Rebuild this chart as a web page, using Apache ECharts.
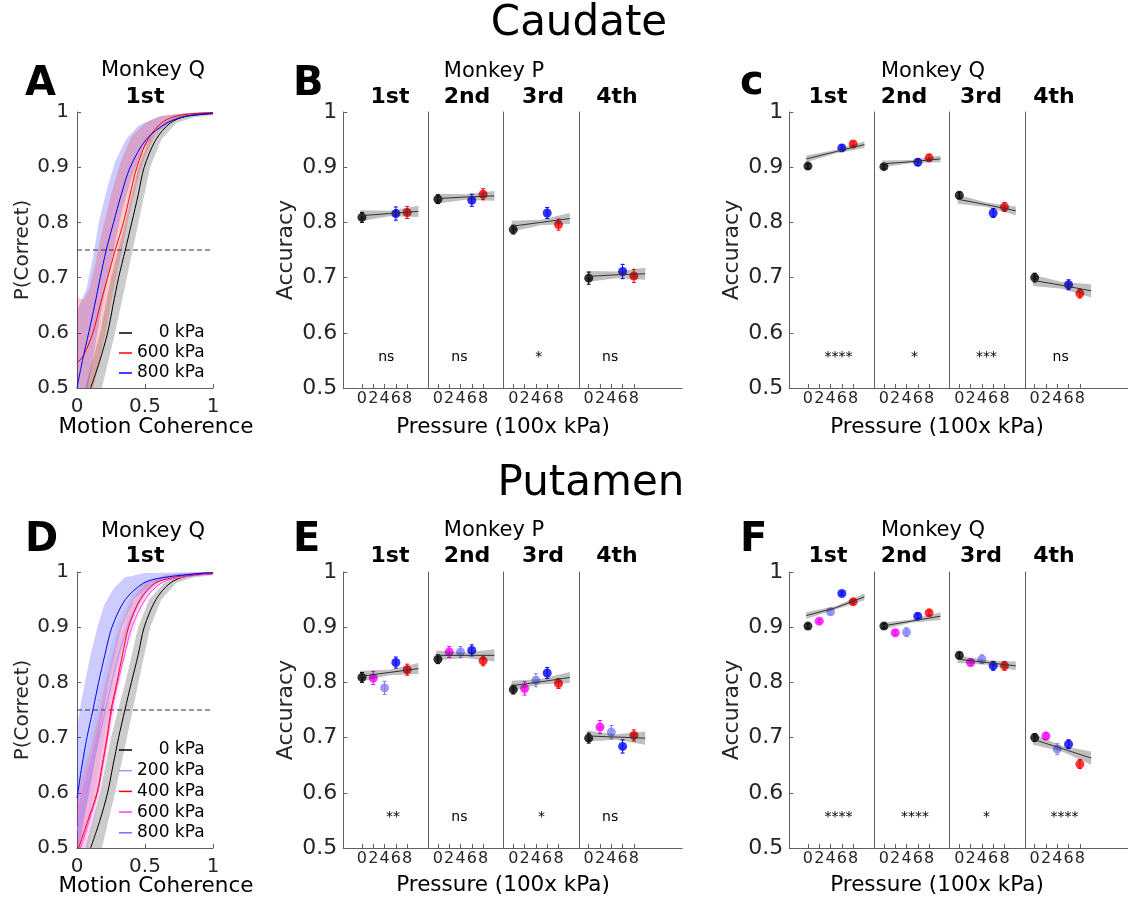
<!DOCTYPE html>
<html>
<head>
<meta charset="utf-8">
<script src="https://cdn.jsdelivr.net/npm/echarts@6/dist/echarts.min.js"></script>
<style>
  html, body { margin: 0; padding: 0; background: #fff; }
  #main { width: 1128px; height: 899px; }
</style>
</head>
<body>
<div id="main"></div>
<script>
// ---------------- data ----------------
var ordinals = ['1st', '2nd', '3rd', '4th'];
var pressTicks = [0, 2, 4, 6, 8];
var pressTop = [0, 6, 8];
var pressBottom = [0, 2, 4, 6, 8];
var fitX = [-0.3, 4.85, 10];
var threshold = 0.75;

// psychometric curves, panel A (caudate, monkey Q, 1st)
var curveA0 = [[0.10, 0.50], [0.166, 0.548], [0.225, 0.60], [0.265, 0.65], [0.306, 0.70], [0.355, 0.75], [0.403, 0.80], [0.45, 0.85], [0.494, 0.90], [0.58, 0.95], [0.685, 0.98], [0.80, 0.992], [1.0, 0.997]];
var curveA600 = [[0, 0.545], [0.05, 0.56], [0.117, 0.60], [0.17, 0.65], [0.225, 0.70], [0.281, 0.75], [0.342, 0.80], [0.39, 0.85], [0.44, 0.90], [0.52, 0.95], [0.62, 0.98], [0.72, 0.992], [0.85, 0.997], [1.0, 0.999]];
var curveA800 = [[0, 0.50], [0.04, 0.55], [0.086, 0.60], [0.13, 0.65], [0.171, 0.70], [0.215, 0.75], [0.269, 0.80], [0.325, 0.85], [0.391, 0.90], [0.508, 0.95], [0.66, 0.98], [0.81, 0.993], [1.0, 0.998]];
var bandA0Hi = [[0.06, 0.5], [0.17, 0.6], [0.25, 0.7], [0.355, 0.8], [0.45, 0.9], [0.53, 0.95], [0.64, 0.98], [0.75, 0.993], [1.0, 0.999]];
var bandA0Lo = [[0.183, 0.5], [0.28, 0.6], [0.367, 0.7], [0.452, 0.8], [0.538, 0.9], [0.62, 0.95], [0.73, 0.98], [0.85, 0.99], [1.0, 0.994]];
var bandA600Hi = [[0, 0.665], [0.05, 0.66], [0.09, 0.68], [0.13, 0.72], [0.18, 0.78], [0.25, 0.85], [0.32, 0.91], [0.40, 0.955], [0.50, 0.98], [0.62, 0.993], [0.8, 0.998], [1.0, 1.0]];
var bandA600Lo = [[0, 0.5], [0.12, 0.5], [0.21, 0.6], [0.27, 0.68], [0.33, 0.75], [0.38, 0.81], [0.44, 0.87], [0.50, 0.92], [0.58, 0.96], [0.70, 0.985], [0.85, 0.995], [1.0, 0.997]];
var bandA800Hi = [[0, 0.64], [0.07, 0.68], [0.12, 0.74], [0.16, 0.80], [0.22, 0.86], [0.28, 0.91], [0.36, 0.95], [0.45, 0.975], [0.6, 0.992], [0.8, 0.998], [1.0, 1.0]];
var bandA800Lo = [[0, 0.5], [0.08, 0.5], [0.15, 0.6], [0.21, 0.68], [0.27, 0.75], [0.33, 0.82], [0.40, 0.88], [0.48, 0.93], [0.58, 0.965], [0.72, 0.988], [1.0, 0.997]];

// psychometric curves, panel D (putamen, monkey Q, 1st)
var curveD0 = [[0.10, 0.50], [0.166, 0.548], [0.225, 0.60], [0.265, 0.65], [0.306, 0.70], [0.352, 0.75], [0.40, 0.80], [0.45, 0.85], [0.494, 0.90], [0.58, 0.95], [0.685, 0.98], [0.80, 0.992], [1.0, 0.997]];
var curveD200 = [[0, 0.53], [0.05, 0.58], [0.1, 0.63], [0.15, 0.685], [0.2, 0.74], [0.25, 0.795], [0.3, 0.845], [0.35, 0.885], [0.4, 0.92], [0.5, 0.965], [0.6, 0.985], [0.75, 0.996], [1.0, 0.999]];
var curveD400 = [[0.012, 0.5], [0.08, 0.55], [0.147, 0.6], [0.185, 0.65], [0.22, 0.7], [0.25, 0.75], [0.293, 0.8], [0.335, 0.85], [0.379, 0.9], [0.465, 0.95], [0.575, 0.98], [0.71, 0.99], [0.85, 0.996], [1.0, 0.998]];
var curveD600 = [[0.024, 0.5], [0.09, 0.55], [0.152, 0.6], [0.19, 0.65], [0.225, 0.7], [0.257, 0.75], [0.30, 0.8], [0.35, 0.85], [0.403, 0.9], [0.50, 0.95], [0.62, 0.98], [0.76, 0.99], [1.0, 0.997]];
var curveD800 = [[0, 0.59], [0.037, 0.65], [0.073, 0.7], [0.117, 0.75], [0.159, 0.8], [0.205, 0.85], [0.257, 0.9], [0.355, 0.95], [0.49, 0.98], [0.636, 0.99], [0.93, 0.998], [1.0, 0.999]];
var bandD0Hi = [[0.06, 0.5], [0.17, 0.6], [0.25, 0.7], [0.355, 0.8], [0.45, 0.9], [0.53, 0.95], [0.64, 0.98], [0.75, 0.993], [1.0, 0.999]];
var bandD0Lo = [[0.183, 0.5], [0.28, 0.6], [0.367, 0.7], [0.452, 0.8], [0.538, 0.9], [0.62, 0.95], [0.73, 0.98], [0.85, 0.99], [1.0, 0.994]];
var bandD200Hi = [[0, 0.62], [0.1, 0.71], [0.2, 0.82], [0.3, 0.91], [0.4, 0.96], [0.5, 0.985], [0.7, 0.997], [1.0, 1.0]];
var bandD200Lo = [[0, 0.5], [0.03, 0.5], [0.13, 0.6], [0.2, 0.7], [0.27, 0.8], [0.35, 0.88], [0.45, 0.94], [0.58, 0.975], [0.8, 0.995], [1.0, 0.998]];
var bandD400Hi = [[0, 0.6], [0.1, 0.68], [0.2, 0.79], [0.3, 0.89], [0.4, 0.95], [0.5, 0.98], [0.65, 0.995], [1.0, 1.0]];
var bandD400Lo = [[0, 0.5], [0.05, 0.5], [0.15, 0.6], [0.22, 0.7], [0.28, 0.78], [0.35, 0.86], [0.42, 0.92], [0.5, 0.96], [0.62, 0.985], [0.8, 0.996], [1.0, 0.998]];
var bandD600Hi = [[0, 0.57], [0.1, 0.66], [0.2, 0.77], [0.3, 0.87], [0.4, 0.94], [0.5, 0.975], [0.65, 0.993], [1.0, 1.0]];
var bandD600Lo = [[0, 0.5], [0.08, 0.5], [0.17, 0.6], [0.24, 0.7], [0.3, 0.78], [0.37, 0.86], [0.45, 0.92], [0.53, 0.96], [0.65, 0.985], [0.82, 0.996], [1.0, 0.998]];
var bandD800Hi = [[0, 0.72], [0.05, 0.79], [0.1, 0.85], [0.15, 0.90], [0.2, 0.94], [0.27, 0.97], [0.35, 0.99], [0.5, 0.998], [1.0, 1.0]];
var bandD800Lo = [[0, 0.5], [0.02, 0.5], [0.05, 0.55], [0.09, 0.6], [0.16, 0.7], [0.23, 0.8], [0.33, 0.9], [0.42, 0.95], [0.55, 0.98], [0.75, 0.995], [1.0, 0.998]];

// Caudate, monkey P (B): accuracy per pressure, error, fit at fitX, CI half-width at fitX, significance
var accB = [[0.809, 0.816, 0.818], [0.842, 0.840, 0.851], [0.787, 0.817, 0.796], [0.699, 0.711, 0.703]];
var errB = [[0.009, 0.012, 0.011], [0.008, 0.011, 0.010], [0.008, 0.010, 0.010], [0.011, 0.013, 0.012]];
var fitB = [[0.812, 0.816, 0.820], [0.843, 0.846, 0.848], [0.793, 0.800, 0.807], [0.702, 0.705, 0.707]];
var ciB = [[0.010, 0.005, 0.010], [0.009, 0.005, 0.009], [0.010, 0.005, 0.010], [0.010, 0.006, 0.011]];
var sigB = ['ns', 'ns', '*', 'ns'];
var sigXB = [4.3, 3.8, 4.5, 3.8];

// Caudate, monkey Q (C)
var accC = [[0.902, 0.935, 0.942], [0.901, 0.909, 0.917], [0.849, 0.817, 0.828], [0.700, 0.687, 0.671]];
var errC = [[0.004, 0.005, 0.004], [0.004, 0.006, 0.006], [0.006, 0.008, 0.008], [0.008, 0.009, 0.008]];
var fitC = [[0.915, 0.928, 0.941], [0.906, 0.910, 0.915], [0.842, 0.832, 0.821], [0.695, 0.686, 0.676]];
var ciC = [[0.006, 0.003, 0.006], [0.006, 0.003, 0.006], [0.008, 0.004, 0.008], [0.010, 0.006, 0.012]];
var sigC = ['****', '*', '***', 'ns'];
var sigXC = [5.4, 5.4, 4.8, 4.6];

// Putamen, monkey P (E)
var accE = [[0.809, 0.808, 0.790, 0.836, 0.823], [0.842, 0.855, 0.855, 0.858, 0.839], [0.787, 0.789, 0.804, 0.817, 0.798], [0.699, 0.719, 0.710, 0.684, 0.704]];
var errE = [[0.009, 0.012, 0.012, 0.010, 0.010], [0.008, 0.010, 0.010, 0.010, 0.009], [0.008, 0.012, 0.012, 0.010, 0.009], [0.009, 0.012, 0.012, 0.012, 0.010]];
var fitE = [[0.811, 0.818, 0.825], [0.849, 0.849, 0.849], [0.794, 0.801, 0.809], [0.703, 0.701, 0.699]];
var ciE = [[0.010, 0.005, 0.010], [0.009, 0.005, 0.011], [0.009, 0.005, 0.010], [0.010, 0.005, 0.012]];
var sigE = ['**', 'ns', '*', 'ns'];
var sigXE = [5.5, 3.8, 5.0, 3.8];

// Putamen, monkey Q (F)
var accF = [[0.902, 0.911, 0.928, 0.961, 0.946], [0.902, 0.890, 0.891, 0.920, 0.926], [0.849, 0.836, 0.842, 0.830, 0.830], [0.700, 0.703, 0.679, 0.688, 0.652]];
var errF = [[0.004, 0.003, 0.005, 0.003, 0.004], [0.004, 0.004, 0.008, 0.004, 0.004], [0.005, 0.006, 0.008, 0.008, 0.008], [0.007, 0.006, 0.010, 0.008, 0.008]];
var fitF = [[0.921, 0.935, 0.955], [0.902, 0.911, 0.920], [0.842, 0.836, 0.830], [0.697, 0.680, 0.663]];
var ciF = [[0.006, 0.003, 0.006], [0.006, 0.003, 0.007], [0.007, 0.004, 0.008], [0.010, 0.005, 0.012]];
var sigF = ['****', '****', '*', '****'];
var sigXF = [5.4, 5.5, 4.8, 5.3];

// ---------------- style / layout ----------------
var FONT = 'DejaVu Sans';
var INK = '#262626';
var AXIS = '#606060';
var pressColor = { 0: '#000000', 2: '#ff00ff', 4: '#8080ff', 6: '#0000ff', 8: '#ff0000' };
var PX = 5.65;                       // pixels per pressure unit
var SUB_OFF = [0, 85, 160.4, 235.8]; // sub-panel offsets from panel left
var SUB_W = [85, 75.4, 75.4, 103];
var SUB_MIN = [-3.3, -1.7, -1.7, -1.7];
var PLOT_H = 276;

var grids = [], xAxes = [], yAxes = [], series = [], graphics = [];

function polygonSeries(gi, hi, lo, color, z) {
  return {
    type: 'custom', xAxisIndex: gi, yAxisIndex: gi, clip: true, silent: true, z: z,
    data: [[0, 0.75]],
    renderItem: function (params, api) {
      var pts = hi.concat(lo.slice().reverse()).map(function (p) { return api.coord(p); });
      return { type: 'polygon', shape: { points: pts }, style: { fill: color } };
    }
  };
}

function psychPanel(top, curves, bands) {
  var gi = grids.length;
  grids.push({ left: 77, top: top, width: 136, height: PLOT_H });
  xAxes.push({
    gridIndex: gi, type: 'value', min: 0, max: 1, interval: 0.5,
    axisLine: { show: true, onZero: false, lineStyle: { color: AXIS } },
    axisTick: { show: true, inside: true, length: 4, lineStyle: { color: AXIS } },
    axisLabel: { fontSize: 20, color: INK, margin: 9, fontFamily: FONT, hideOverlap: false },
    splitLine: { show: false }
  });
  yAxes.push({
    gridIndex: gi, type: 'value', min: 0.5, max: 1, interval: 0.1,
    name: 'P(Correct)', nameLocation: 'middle', nameGap: 42, nameRotate: 90,
    nameTextStyle: { fontSize: 20, color: INK, fontFamily: FONT },
    axisLine: { show: true, onZero: false, lineStyle: { color: AXIS } },
    axisTick: { show: true, inside: true, length: 4, lineStyle: { color: AXIS } },
    axisLabel: { fontSize: 20, color: INK, margin: 8, fontFamily: FONT },
    splitLine: { show: false }
  });
  bands.forEach(function (b) { series.push(polygonSeries(gi, b.hi, b.lo, b.color, 2)); });
  series.push({
    type: 'line', xAxisIndex: gi, yAxisIndex: gi, silent: true, symbol: 'none', z: 3,
    data: [[0, threshold], [1, threshold]],
    lineStyle: { color: '#333', width: 1, type: [5, 3] }
  });
  curves.forEach(function (c) {
    series.push({
      type: 'line', name: c.name, xAxisIndex: gi, yAxisIndex: gi, data: c.data,
      smooth: 0.3, symbol: 'none', clip: true, z: 4,
      lineStyle: { color: c.color, width: 1 }, itemStyle: { color: c.color }
    });
  });
}

function accPanel(left, top, press, acc, err, fit, ci, sig, sigX) {
  for (var k = 0; k < 4; k++) {
    var gi = grids.length;
    var min = SUB_MIN[k];
    grids.push({ left: left + SUB_OFF[k], top: top, width: SUB_W[k], height: PLOT_H });
    xAxes.push({
      gridIndex: gi, type: 'value', min: min, max: min + SUB_W[k] / PX,
      axisLine: { show: true, onZero: false, lineStyle: { color: AXIS } },
      axisTick: { show: true, inside: true, length: 4, customValues: pressTicks, lineStyle: { color: AXIS } },
      axisLabel: { show: true, customValues: pressTicks, fontSize: 16, margin: 3, color: INK, fontFamily: FONT, hideOverlap: false },
      splitLine: { show: false }
    });
    yAxes.push({
      gridIndex: gi, type: 'value', min: 0.5, max: 1, interval: 0.1,
      name: k === 0 ? 'Accuracy' : '', nameLocation: 'middle', nameGap: 46, nameRotate: 90,
      nameTextStyle: { fontSize: 22, color: INK, fontFamily: FONT },
      axisLine: { show: true, onZero: false, lineStyle: { color: AXIS } },
      axisTick: { show: k === 0, inside: true, length: 4, lineStyle: { color: AXIS } },
      axisLabel: { show: k === 0, fontSize: 22, color: INK, margin: 6, fontFamily: FONT },
      splitLine: { show: false }
    });
    var means = acc[k], errs = err[k];
    // points
    series.push({
      type: 'scatter', xAxisIndex: gi, yAxisIndex: gi, symbolSize: 9, z: 2, silent: true,
      data: press.map(function (p, i) { return { value: [p, means[i]], itemStyle: { color: pressColor[p] } }; })
    });
    // error bars
    series.push({
      type: 'custom', xAxisIndex: gi, yAxisIndex: gi, z: 2, silent: true,
      data: press.map(function (p, i) { return { value: [p, means[i] - errs[i], means[i] + errs[i]], itemStyle: { color: pressColor[p] } }; }),
      renderItem: function (params, api) {
        var x = api.value(0);
        var a = api.coord([x, api.value(1)]), b = api.coord([x, api.value(2)]);
        var c = api.visual('color');
        var st = { stroke: c, lineWidth: 1 };
        return {
          type: 'group', children: [
            { type: 'line', shape: { x1: a[0], y1: a[1], x2: b[0], y2: b[1] }, style: st },
            { type: 'line', shape: { x1: a[0] - 2, y1: a[1], x2: a[0] + 2, y2: a[1] }, style: st },
            { type: 'line', shape: { x1: b[0] - 2, y1: b[1], x2: b[0] + 2, y2: b[1] }, style: st }
          ]
        };
      }
    });
    // confidence band of the fit
    var hi = fitX.map(function (x, i) { return [x, fit[k][i] + ci[k][i]]; });
    var lo = fitX.map(function (x, i) { return [x, fit[k][i] - ci[k][i]]; });
    series.push(polygonSeries(gi, hi, lo, 'rgba(0,0,0,0.25)', 3));
    // fit line
    series.push({
      type: 'line', xAxisIndex: gi, yAxisIndex: gi, symbol: 'none', z: 4, silent: true,
      data: fitX.map(function (x, i) { return [x, fit[k][i]]; }),
      lineStyle: { color: '#333', width: 1 }
    });
    // significance
    series.push({
      type: 'custom', xAxisIndex: gi, yAxisIndex: gi, z: 5, silent: true,
      data: [[sigX[k], 0.556]],
      renderItem: (function (t) {
        return function (params, api) {
          var p = api.coord([api.value(0), api.value(1)]);
          return { type: 'text', x: p[0], y: p[1], style: { text: t, fill: '#000', font: '14px "DejaVu Sans"', align: 'center', verticalAlign: 'middle' } };
        };
      })(sig[k])
    });
  }
}

function txt(text, x, y, size, bold, align) {
  graphics.push({
    type: 'text', x: x, y: y, silent: true,
    style: { text: text, fill: '#000', font: (bold ? 'bold ' : '') + size + 'px "DejaVu Sans"', align: align || 'center', verticalAlign: 'middle' }
  });
}

// ---------------- build ----------------
psychPanel(112, [
  { name: '0 kPa', data: curveA0, color: '#000000' },
  { name: '600 kPa', data: curveA600, color: '#ff0000' },
  { name: '800 kPa', data: curveA800, color: '#0000ff' }
], [
  { hi: bandA0Hi, lo: bandA0Lo, color: 'rgba(0,0,0,0.2)' },
  { hi: bandA800Hi, lo: bandA800Lo, color: 'rgba(0,0,255,0.2)' },
  { hi: bandA600Hi, lo: bandA600Lo, color: 'rgba(255,0,0,0.2)' }
]);
psychPanel(572, [
  { name: '0 kPa', data: curveD0, color: '#000000' },
  { name: '200 kPa', data: curveD200, color: '#9a9aff' },
  { name: '600 kPa', data: curveD600, color: '#ff40ff' },
  { name: '400 kPa', data: curveD400, color: '#ff0000' },
  { name: '800 kPa', data: curveD800, color: '#0000ff' }
], [
  { hi: bandD0Hi, lo: bandD0Lo, color: 'rgba(0,0,0,0.2)' },
  { hi: bandD800Hi, lo: bandD800Lo, color: 'rgba(0,0,255,0.2)' },
  { hi: bandD200Hi, lo: bandD200Lo, color: 'rgba(128,128,255,0.15)' },
  { hi: bandD600Hi, lo: bandD600Lo, color: 'rgba(255,0,255,0.13)' },
  { hi: bandD400Hi, lo: bandD400Lo, color: 'rgba(255,0,0,0.13)' }
]);
accPanel(343.3, 112, pressTop, accB, errB, fitB, ciB, sigB, sigXB);
accPanel(789.3, 112, pressTop, accC, errC, fitC, ciC, sigC, sigXC);
accPanel(343.3, 572, pressBottom, accE, errE, fitE, ciE, sigE, sigXE);
accPanel(789.3, 572, pressBottom, accF, errF, fitF, ciF, sigF, sigXF);

// titles and labels
txt('Caudate', 579, 24, 42);
txt('Putamen', 591, 484, 42);
txt('A', 25, 85, 40, true, 'left');
txt('B', 293, 85, 40, true, 'left');
txt('c', 740, 84, 40, true, 'left');
txt('D', 25, 541, 40, true, 'left');
txt('E', 293, 541, 40, true, 'left');
txt('F', 740, 541, 40, true, 'left');
txt('Monkey Q', 153, 71, 21);
txt('1st', 145, 97, 22, true);
txt('Monkey Q', 153, 532, 21);
txt('1st', 145, 556, 22, true);
txt('Monkey P', 494, 72, 21);
txt('Monkey Q', 933, 72, 21);
txt('Monkey P', 494, 531, 21);
txt('Monkey Q', 933, 531, 21);
[390, 467, 543, 617].forEach(function (x, i) { txt(ordinals[i], x, 97, 22, true); txt(ordinals[i], x, 556, 22, true); });
[828, 904, 981, 1054].forEach(function (x, i) { txt(ordinals[i], x, 97, 22, true); txt(ordinals[i], x, 556, 22, true); });
txt('Motion Coherence', 156, 427, 21.5);
txt('Motion Coherence', 156, 886, 21.5);
txt('Pressure (100x kPa)', 503, 427, 21.5);
txt('Pressure (100x kPa)', 937, 427, 21.5);
txt('Pressure (100x kPa)', 503, 885.5, 21.5);
txt('Pressure (100x kPa)', 937, 885.5, 21.5);

function legendItems(names, colors) {
  return names.map(function (n, i) { return { name: n, itemStyle: { color: colors[i] } }; });
}
var legendBase = {
  orient: 'vertical', icon: 'rect', itemWidth: 13, itemHeight: 1.5, padding: 0, itemGap: 2,
  selectedMode: false,
  textStyle: { fontSize: 17, color: '#000', fontFamily: FONT, lineHeight: 18 },
  formatter: function (n) { return n.padStart(7, '\u2007'); }
};

var myChart = echarts.init(document.getElementById('main'), null, { renderer: 'canvas' });
var option = {
  backgroundColor: '#ffffff',
  animation: false,
  textStyle: { fontFamily: FONT },
  grid: grids,
  xAxis: xAxes,
  yAxis: yAxes,
  legend: [
    Object.assign({}, legendBase, { left: 119, top: 324, data: legendItems(['0 kPa', '600 kPa', '800 kPa'], ['#000000', '#ff0000', '#0000ff']) }),
    Object.assign({}, legendBase, { left: 119, top: 741, itemGap: 2.7, data: legendItems(['0 kPa', '200 kPa', '400 kPa', '600 kPa', '800 kPa'], ['#000000', '#9a9aff', '#ff0000', '#ff40ff', '#7070ff']) })
  ],
  graphic: graphics,
  series: series
};
myChart.setOption(option);
window.addEventListener('resize', function () { myChart.resize(); });
</script>
</body>
</html>
